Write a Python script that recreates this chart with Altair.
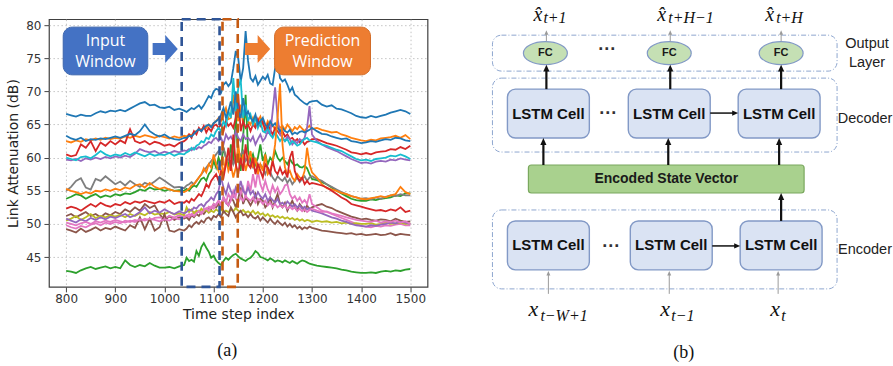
import math
import altair as alt
import pandas as pd

# ---------------------------------------------------------------------------
# (a) link attenuation traces
# time-step grid: every 10 steps before/after the event, every 5 through it
steps = list(range(800, 1041, 10)) + list(range(1045, 1301, 5)) + list(range(1310, 1501, 10))

link_00 = [66.6, 66.4, 66.2, 66.5, 66.3, 66.3, 66.7, 67.0, 66.8, 67.1,
           67.0, 67.2, 67.0, 67.4, 67.8, 68.2, 68.4, 67.9, 68.0, 67.6,
           67.5, 67.7, 67.2, 67.4, 67.1,
           66.9, 67.2, 67.5, 67.3, 67.6, 67.9, 67.4, 67.9, 68.6, 69.3, 69.0, 70.0, 70.4,
           70.2, 69.8, 71.0, 71.4, 70.8, 71.3, 73.5, 76.1, 75.0, 71.5, 73.5, 79.1, 74.6,
           72.0, 71.5, 72.3, 71.0, 71.6, 72.2, 71.8, 72.5, 71.2, 71.0, 73.5, 74.6, 72.0,
           71.5, 71.8, 71.0, 70.0, 70.6, 69.5, 69.2, 68.8, 68.5, 68.2, 68.0, 68.4, 68.5,
           68.6, 68.0, 67.7, 67.9, 67.4, 67.3, 67.0, 66.7, 66.3, 66.1,
           66.0, 66.3, 66.1, 66.3, 66.5, 66.8, 67.0, 67.2, 67.0, 66.6]
link_01 = [62.5, 62.3, 62.6, 62.4, 62.8, 62.6, 62.9, 62.7, 63.0, 62.8,
           63.0, 62.9, 63.2, 63.0, 63.3, 63.1, 63.4, 63.2, 63.0, 63.3,
           63.1, 62.9, 63.2, 63.0, 63.3,
           63.2, 63.5, 63.4, 63.8, 64.0, 64.3, 64.2, 64.6, 64.5, 65.0, 64.7, 65.2, 65.5,
           66.0, 65.5, 66.5, 67.5, 65.8, 66.0, 69.5, 66.5, 65.5, 68.0, 65.0, 66.5, 65.5,
           65.0, 66.0, 64.8, 65.5, 66.2, 65.0, 64.5, 65.5, 64.8, 65.0, 64.2, 65.0, 64.5,
           64.8, 64.2, 65.0, 64.5, 64.0, 64.6, 64.3, 64.8, 64.4, 64.0, 64.5, 64.8, 64.3,
           64.5, 64.2, 64.0, 63.8, 63.9, 63.5, 63.3, 63.0, 62.8, 62.6,
           62.5, 62.7, 62.6, 62.9, 63.0, 63.1, 63.3, 63.0, 63.4, 62.8]
link_02 = [53.8, 54.1, 54.5, 54.3, 53.8, 54.2, 54.5, 54.0, 54.3, 54.1,
           54.5, 54.3, 54.6, 54.5, 54.8, 55.2, 55.0, 55.5, 55.2, 55.3,
           55.0, 55.2, 55.0, 55.1, 55.0,
           55.3, 55.0, 55.5, 55.8, 55.6, 56.2, 56.8, 57.0, 56.5, 57.5, 58.0, 59.5, 58.5,
           60.0, 59.0, 61.5, 60.0, 58.5, 62.0, 59.0, 66.5, 60.0, 58.0, 63.0, 69.5, 61.0,
           59.5, 60.5, 59.0, 60.0, 62.0, 59.5, 60.5, 59.0, 60.0, 59.5, 61.0, 60.0, 59.5,
           60.0, 59.5, 59.0, 59.8, 59.2, 58.8, 59.0, 58.6, 58.5, 58.8, 58.4, 57.5, 56.8,
           56.6, 56.3, 56.0, 55.5, 55.0, 54.6, 54.2, 53.8, 53.6, 53.5,
           53.5, 53.7, 53.6, 53.8, 53.9, 54.0, 54.3, 54.2, 54.6, 54.6]
link_03 = [60.5, 60.2, 60.4, 62.0, 61.5, 62.5, 61.0, 62.3, 61.8, 62.5,
           62.0, 62.6, 62.2, 64.3, 62.5, 62.2, 62.5, 62.0, 62.4, 62.2,
           61.8, 62.0, 61.7, 62.2, 62.5,
           62.8, 63.5, 63.0, 64.0, 63.5, 64.5, 64.0, 64.8, 63.8, 64.5, 64.0, 64.8, 65.0,
           64.5, 65.0, 64.0, 65.5, 64.8, 65.2, 64.5, 66.0, 69.5, 64.0, 65.5, 64.5, 65.0,
           64.0, 65.0, 64.5, 65.8, 64.8, 65.5, 64.0, 65.0, 64.2, 63.5, 64.5, 64.0, 63.5,
           64.0, 63.2, 63.5, 62.8, 63.0, 62.5, 62.8, 62.3, 62.6, 62.0, 62.4, 62.5, 62.8,
           62.8, 62.5, 62.2, 62.0, 61.8, 61.5, 61.2, 60.8, 60.7, 60.5,
           60.7, 60.5, 60.8, 60.9, 61.0, 61.3, 61.2, 61.6, 61.3, 61.8]
link_04 = [59.7, 59.6, 59.8, 59.5, 59.9, 59.7, 60.0, 59.8, 60.1, 59.9,
           60.2, 60.0, 60.3, 60.1, 60.6, 61.3, 61.0, 60.8, 61.0, 60.6,
           60.9, 60.7, 61.0, 60.8, 61.1,
           61.0, 61.3, 61.1, 61.5, 61.3, 61.6, 61.4, 61.8, 62.0, 62.4, 62.2, 62.8, 63.0,
           62.5, 63.0, 62.0, 63.5, 62.8, 63.2, 62.5, 64.0, 63.0, 62.5, 63.5, 62.8, 63.0,
           62.5, 63.2, 62.0, 62.8, 63.5, 62.5, 63.0, 64.0, 63.5, 67.0, 70.6, 66.0, 63.5,
           63.0, 62.5, 63.2, 62.8, 62.0, 62.5, 62.2, 62.8, 62.5, 63.0, 64.5, 67.8, 63.5,
           62.5, 62.0, 61.6, 61.3, 61.0, 60.6, 60.2, 59.8, 59.5, 59.2,
           59.3, 59.1, 59.4, 59.5, 59.4, 59.7, 59.6, 59.9, 59.7, 59.6]
link_05 = [51.2, 51.5, 51.0, 51.4, 51.8, 51.2, 51.5, 51.0, 51.6, 51.3,
           51.8, 51.5, 52.2, 51.8, 52.5, 52.0, 53.0, 52.4, 52.8, 51.5,
           50.5, 51.2, 50.6, 51.0, 50.8,
           51.0, 50.6, 51.3, 51.0, 51.5, 51.2, 51.8, 51.5, 52.0, 52.5, 52.2, 53.0, 52.5,
           53.0, 52.5, 54.0, 53.2, 52.8, 54.0, 53.5, 52.5, 53.8, 55.5, 53.0, 54.0, 53.5,
           52.8, 53.5, 54.5, 53.0, 53.8, 53.5, 52.5, 53.0, 54.0, 52.5, 53.5, 54.5, 53.0,
           52.5, 53.2, 52.0, 52.8, 53.5, 52.5, 52.0, 53.0, 52.5, 52.0, 52.8, 52.2, 52.5,
           52.8, 53.0, 52.6, 52.4, 52.0, 51.7, 51.4, 51.1, 50.9, 50.7,
           50.8, 50.6, 50.5, 50.7, 50.6, 50.4, 50.8, 50.5, 50.3, 50.4]
link_06 = [49.8, 49.5, 49.3, 49.7, 49.5, 49.9, 50.1, 49.8, 50.2, 50.0,
           50.3, 50.1, 50.5, 50.3, 50.6, 50.4, 50.8, 50.5, 50.9, 51.0,
           50.8, 51.2, 51.0, 51.3, 51.0,
           51.2, 51.5, 51.3, 51.8, 51.6, 52.0, 51.8, 52.3, 52.1, 52.6, 52.4, 53.0, 52.8,
           53.5, 53.0, 54.0, 53.2, 54.5, 53.8, 55.0, 54.2, 56.0, 54.5, 55.5, 54.0, 56.5,
           55.0, 57.5, 55.5, 58.0, 56.0, 55.0, 56.5, 55.2, 54.5, 55.8, 54.8, 55.5, 54.5,
           55.0, 55.8, 56.0, 54.5, 53.8, 54.2, 53.5, 54.0, 53.2, 53.6, 53.0, 54.5, 53.0,
           52.5, 52.0, 51.8, 51.5, 51.2, 50.9, 50.6, 50.3, 50.0, 49.7,
           49.6, 49.5, 49.7, 49.6, 49.8, 49.7, 49.9, 50.0, 49.8, 49.8]
link_07 = [55.0, 55.6, 56.5, 56.9, 55.5, 55.2, 56.8, 56.5, 57.2, 56.6,
           56.0, 56.4, 55.8, 56.5, 56.0, 55.6, 56.2, 55.9, 56.4, 57.0,
           56.5, 56.0, 55.5, 55.6, 55.4,
           55.8, 56.0, 56.3, 56.0, 56.5, 57.0, 57.5, 58.0, 58.5, 59.0, 59.5, 60.0, 60.5,
           61.0, 60.5, 61.5, 60.0, 59.5, 60.5, 59.0, 60.0, 59.5, 60.5, 61.0, 59.5, 60.0,
           59.0, 58.5, 59.5, 58.8, 59.0, 58.5, 57.5, 58.5, 57.8, 57.0, 56.5, 57.2, 56.8,
           56.5, 57.0, 56.2, 56.8, 56.0, 56.5, 57.0, 56.3, 56.8, 57.2, 56.5, 57.0, 57.2,
           56.8, 56.5, 56.0, 55.6, 55.2, 54.8, 54.5, 54.2, 54.0, 53.8,
           53.9, 53.7, 54.0, 53.8, 54.1, 54.3, 54.2, 54.5, 54.3, 54.3]
link_08 = [50.5, 50.8, 51.2, 50.6, 51.0, 51.5, 50.9, 51.2, 51.0, 51.3,
           51.1, 51.4, 51.0, 51.5, 51.2, 51.6, 51.3, 51.8, 51.4, 51.6,
           51.5, 51.8, 51.4, 51.6, 51.3,
           52.5, 51.8, 52.2, 51.6, 52.0, 51.8, 52.3, 51.9, 52.1, 51.7, 52.0, 51.8, 52.2,
           51.9, 52.3, 51.7, 52.0, 51.8, 52.2, 51.9, 52.4, 52.0, 51.8, 52.1, 51.7, 51.9,
           51.6, 52.0, 51.5, 51.8, 51.4, 51.6, 51.2, 51.5, 51.1, 51.3, 51.0, 51.2, 50.9,
           51.1, 50.8, 51.0, 50.7, 50.9, 50.6, 50.8, 50.5, 50.7, 50.4, 50.6, 50.5, 50.3,
           50.5, 50.3, 50.4, 50.2, 50.3, 50.1, 50.2, 50.0, 50.1, 50.0,
           50.0, 50.1, 49.9, 50.0, 50.2, 50.0, 50.1, 50.2, 50.0, 50.1]
link_09 = [60.0, 59.8, 59.6, 60.1, 60.2, 59.9, 60.4, 61.0, 60.5, 60.2,
           60.5, 60.3, 60.7, 60.4, 60.8, 60.5, 60.2, 60.6, 60.3, 60.5,
           60.4, 60.7, 60.3, 60.6, 60.5,
           60.8, 61.0, 61.5, 61.2, 61.8, 62.0, 62.5, 62.3, 63.0, 62.8, 63.5, 63.2, 64.0,
           64.5, 64.0, 65.5, 64.8, 67.0, 66.0, 72.0, 67.0, 70.5, 71.8, 66.0, 68.0, 65.5,
           66.5, 65.0, 66.0, 64.5, 65.5, 64.0, 63.8, 64.5, 63.5, 63.0, 63.8, 63.2, 62.5,
           63.0, 62.5, 62.8, 62.0, 62.5, 62.2, 61.8, 62.0, 62.5, 62.8, 63.0, 62.6, 62.5,
           62.3, 62.0, 61.8, 61.5, 61.2, 61.0, 60.6, 60.2, 59.8, 59.6,
           59.7, 59.5, 59.8, 59.9, 60.0, 60.3, 60.2, 60.5, 60.2, 59.8]
link_10 = [63.3, 62.9, 62.7, 63.0, 62.5, 62.8, 62.7, 62.9, 62.8, 63.0,
           63.2, 63.0, 63.3, 63.6, 63.4, 64.0, 65.0, 64.0, 63.5, 63.2,
           63.5, 63.0, 62.8, 62.7, 63.0,
           63.0, 63.3, 63.2, 63.6, 64.0, 64.3, 64.0, 64.5, 64.8, 65.0, 64.6, 65.2, 65.5,
           65.8, 66.5, 67.5, 66.0, 67.0, 68.5, 66.5, 70.0, 67.0, 66.0, 69.0, 66.5, 67.0,
           66.0, 65.5, 66.5, 65.0, 65.5, 66.0, 65.0, 64.5, 65.5, 64.8, 65.2, 64.5, 64.0,
           64.5, 64.0, 63.8, 64.2, 63.5, 63.8, 63.6, 63.9, 64.0, 63.8, 64.0, 64.2, 64.5,
           64.0, 63.6, 63.5, 63.2, 63.0, 62.8, 62.9, 62.5, 62.4, 62.2,
           62.3, 62.5, 62.4, 62.6, 62.8, 62.7, 63.0, 62.9, 62.6, 62.5]
link_11 = [55.3, 55.0, 54.8, 54.5, 54.8, 54.6, 55.0, 54.9, 55.2, 55.0,
           55.3, 55.1, 55.5, 55.3, 55.8, 56.0, 55.5, 56.2, 55.6, 55.3,
           55.5, 55.2, 55.0, 54.9, 54.8,
           55.0, 55.3, 55.8, 56.0, 56.5, 57.0, 57.5, 58.4, 57.8, 59.0, 58.5, 60.5, 59.0,
           58.0, 59.5, 57.5, 60.0, 58.0, 59.0, 57.0, 58.5, 62.0, 59.0, 60.5, 58.0, 59.5,
           61.0, 58.5, 60.0, 57.5, 59.0, 58.0, 60.5, 57.5, 58.0, 59.5, 62.0, 66.0, 71.2,
           62.0, 58.5, 57.5, 58.0, 57.0, 56.5, 57.5, 57.0, 56.8, 58.0, 61.5, 59.0, 57.8,
           57.0, 56.0, 55.4, 55.2, 55.0, 54.7, 54.5, 54.2, 54.0, 53.8,
           53.7, 53.9, 54.0, 54.2, 54.0, 54.3, 54.5, 55.6, 54.8, 54.5]
link_12 = [42.9, 42.8, 42.6, 43.0, 43.3, 43.5, 43.2, 43.4, 43.6, 43.3,
           43.5, 43.3, 44.5, 43.8, 43.5, 43.8, 43.6, 44.1, 43.7, 43.4,
           43.4, 43.5, 43.3, 43.6, 43.8,
           44.9, 44.4, 44.6, 44.3, 45.9, 45.2, 46.5, 47.1, 46.4, 45.8, 44.9, 45.2, 44.5,
           44.1, 43.8, 44.4, 44.9, 44.6, 45.0, 45.3, 45.5, 45.1, 44.8, 44.6, 44.4, 44.7,
           44.9, 45.3, 45.9, 45.6, 45.0, 44.9, 44.7, 44.5, 44.8, 44.6, 44.3, 44.5, 44.4,
           44.2, 44.5, 44.3, 44.1, 44.4, 44.2, 44.0, 44.3, 44.5, 44.4, 44.2, 44.0, 43.9,
           43.7, 43.6, 43.5, 43.4, 43.3, 43.1, 43.0, 42.8, 42.7, 42.6,
           42.6, 42.7, 42.6, 42.8, 42.9, 42.8, 43.0, 42.9, 43.1, 43.2]
link_13 = [52.3, 52.6, 52.4, 52.0, 52.5, 53.0, 52.6, 53.2, 52.8, 52.6,
           53.0, 52.8, 53.3, 53.0, 53.4, 53.2, 53.5, 53.3, 53.1, 53.4,
           53.2, 53.6, 53.0, 53.3, 53.2,
           53.5, 53.2, 53.8, 53.5, 54.0, 54.5, 54.2, 55.0, 56.0, 55.5, 56.5, 57.0, 57.5,
           56.5, 58.0, 57.0, 59.0, 61.5, 58.0, 63.5, 59.0, 57.5, 60.0, 58.0, 62.0, 59.0,
           58.5, 60.0, 57.5, 59.0, 58.0, 57.0, 59.0, 58.5, 57.5, 59.5, 58.0, 57.5, 58.5,
           57.5, 58.0, 57.0, 60.0, 61.0, 58.0, 57.0, 56.5, 57.0, 56.0, 56.5, 56.0, 56.2,
           56.0, 55.8, 55.5, 55.0, 54.5, 54.0, 53.6, 53.0, 52.8, 52.6,
           52.4, 52.2, 52.0, 52.1, 51.9, 52.2, 52.0, 52.5, 51.8, 52.0]
link_14 = [50.8, 50.5, 50.2, 50.7, 50.4, 50.9, 50.6, 51.0, 50.7, 51.1,
           50.9, 51.2, 51.5, 51.0, 51.3, 51.8, 52.5, 51.6, 52.0, 51.7,
           52.2, 51.8, 51.5, 51.9, 51.6,
           51.8, 52.2, 52.0, 52.5, 52.3, 52.8, 53.0, 52.6, 53.2, 53.5, 54.0, 53.6, 54.5,
           55.0, 57.0, 55.5, 54.5, 56.0, 55.0, 54.2, 55.5, 54.8, 56.5, 55.0, 54.5, 55.5,
           54.5, 55.0, 54.0, 54.8, 54.2, 53.8, 54.5, 53.5, 54.0, 53.6, 53.2, 53.8, 53.0,
           53.2, 52.8, 53.4, 53.0, 52.6, 53.0, 52.5, 52.8, 52.3, 52.6, 52.2, 52.4, 52.0,
           51.8, 51.6, 51.3, 51.0, 50.8, 50.5, 50.3, 50.0, 49.8, 49.7,
           49.6, 49.8, 49.7, 49.9, 50.0, 50.2, 50.1, 50.3, 50.2, 50.0]
link_15 = [49.2, 49.0, 48.7, 49.3, 48.8, 49.1, 49.5, 49.0, 49.4, 49.2,
           49.6, 49.3, 49.0, 49.8, 49.4, 51.0, 49.2, 50.8, 49.0, 49.5,
           51.5, 49.0, 48.8, 49.2, 49.0,
           49.3, 49.8, 49.5, 50.0, 50.3, 50.0, 50.5, 50.2, 50.8, 51.0, 50.6, 51.2, 51.0,
           51.5, 51.0, 52.0, 51.5, 51.2, 52.5, 51.8, 51.0, 51.6, 52.0, 51.3, 51.5, 51.0,
           51.5, 51.0, 50.8, 51.2, 50.5, 51.0, 50.6, 50.2, 50.8, 50.3, 50.0, 50.5, 50.1,
           49.8, 50.2, 49.6, 50.0, 49.5, 49.8, 49.3, 49.6, 49.2, 49.5, 49.3, 49.6, 49.4,
           49.2, 49.0, 48.9, 48.8, 48.7, 48.6, 48.5, 48.6, 48.4, 48.5,
           48.3, 48.4, 48.5, 48.3, 48.4, 48.6, 48.3, 48.5, 48.4, 48.3]
link_16 = [50.2, 50.0, 49.8, 50.1, 50.3, 50.0, 50.4, 50.2, 50.5, 50.3,
           50.6, 50.4, 50.2, 50.5, 50.3, 50.7, 50.5, 50.8, 50.6, 50.4,
           50.7, 50.5, 50.9, 50.7, 51.0,
           51.3, 51.0, 51.5, 51.2, 51.6, 51.9, 51.5, 52.0, 52.4, 52.0, 52.6, 52.3, 53.0,
           53.5, 52.8, 54.0, 53.5, 52.8, 53.5, 54.5, 53.8, 53.2, 54.0, 53.5, 54.2, 53.8,
           53.5, 54.0, 53.2, 53.8, 53.5, 53.0, 53.5, 52.8, 53.2, 52.6, 53.0, 52.5, 52.8,
           52.5, 52.8, 52.3, 52.6, 52.2, 52.5, 52.0, 52.3, 51.9, 52.2, 51.8, 52.1, 52.3,
           52.0, 51.8, 51.9, 51.6, 51.4, 51.2, 51.0, 50.8, 50.6, 50.5,
           50.4, 50.3, 50.5, 50.2, 50.4, 50.3, 50.5, 50.2, 50.4, 50.0]

links = [link_00, link_01, link_02, link_03, link_04, link_05, link_06, link_07, link_08,
         link_09, link_10, link_11, link_12, link_13, link_14, link_15, link_16]
link_ids = [f"link {i:02d}" for i in range(len(links))]
link_colors = ["#1f77b4", "#ff7f0e", "#2ca02c", "#d62728", "#9467bd", "#8c564b",
               "#e377c2", "#7f7f7f", "#bcbd22", "#17becf", "#1f77b4", "#ff7f0e",
               "#2ca02c", "#d62728", "#9467bd", "#8c564b", "#e377c2"]

x_ticks = [800, 900, 1000, 1100, 1200, 1300, 1400, 1500]
y_ticks = [45, 50, 55, 60, 65, 70, 75, 80]
X_DOMAIN = [765, 1535]
Y_DOMAIN = [40.5, 80.9]

# input / prediction windows
window_names = ["Input", "Prediction"]
window_start = [1035, 1118]
window_end = [1112, 1149]
window_colors = ["#2f5597", "#c55a11"]

# call-out boxes with their block arrows
callout_names = ["Input", "Prediction"]
callout_start = [794, 1224]
callout_end = [966, 1419]
callout_low, callout_high = 72.5, 79.7
callout_fill = ["#4472c4", "#ed7d31"]
callout_edge = ["#3a64ad", "#d26a24"]
callout_words = ["Input", "Window", "Prediction", "Window"]
callout_word_box = [0, 0, 1, 1]
callout_word_level = [77.6, 74.4, 77.6, 74.4]
pointer_at = [1001.5, 1189.5]
pointer_level = 76.4

rows = []
for lid, vals in zip(link_ids, links):
    for s, v in zip(steps, vals):
        rows.append({"step": s, "attenuation": v, "link": lid})
lines_df = pd.DataFrame(rows)

windows_df = pd.DataFrame({
    "name": window_names, "step": window_start, "step_end": window_end,
    "attenuation": [Y_DOMAIN[0]] * 2, "attenuation_top": [Y_DOMAIN[1]] * 2,
    "color": window_colors,
})
callout_df = pd.DataFrame({
    "name": callout_names, "step": callout_start, "step_end": callout_end,
    "attenuation": [callout_low] * 2, "attenuation_top": [callout_high] * 2,
    "fill": callout_fill, "edge": callout_edge,
})
callout_words_df = pd.DataFrame({
    "word": callout_words,
    "mid": [(callout_start[b] + callout_end[b]) / 2 for b in callout_word_box],
    "level": callout_word_level,
})
pointer_df = pd.DataFrame({"step": pointer_at, "attenuation": [pointer_level] * 2,
                           "fill": callout_fill})

AX_FONT = "DejaVu Sans"
axis_common = dict(
    labelFont=AX_FONT, labelFontSize=12, labelColor="#333333",
    titleFont=AX_FONT, titleFontSize=14, titleFontWeight="normal", titleColor="#222222",
    tickColor="#444444", tickSize=5, tickWidth=1, domain=False,
    grid=True, gridColor="#bdbdbd", gridDash=[1.5, 2.5], gridWidth=0.9,
)
x_scale = alt.Scale(domain=X_DOMAIN, nice=False, zero=False)
y_scale = alt.Scale(domain=Y_DOMAIN, nice=False, zero=False)
x_axis = alt.Axis(values=x_ticks, format="d", title="Time step index",
                  labelPadding=2, titlePadding=3, **axis_common)
y_axis = alt.Axis(values=y_ticks, format="d", title="Link Attenuation (dB)",
                  labelPadding=3, titlePadding=5, **axis_common)


def xq(field="step"):
    return alt.X(f"{field}:Q", scale=x_scale, axis=x_axis)


def yq(field="attenuation"):
    return alt.Y(f"{field}:Q", scale=y_scale, axis=y_axis)


traces = alt.Chart(lines_df).mark_line(strokeWidth=1.8).encode(
    x=xq(), y=yq(),
    color=alt.Color("link:N", scale=alt.Scale(domain=link_ids, range=link_colors), legend=None),
)
window_rects = alt.Chart(windows_df).mark_rect(
    fillOpacity=0, strokeWidth=2.6, strokeDash=[9, 6]
).encode(
    x=xq(), x2="step_end:Q", y=yq(), y2="attenuation_top:Q",
    stroke=alt.Stroke("color:N", scale=None),
)
callout_boxes = alt.Chart(callout_df).mark_rect(cornerRadius=9, strokeWidth=1).encode(
    x=xq(), x2="step_end:Q", y=yq(), y2="attenuation_top:Q",
    fill=alt.Fill("fill:N", scale=None), stroke=alt.Stroke("edge:N", scale=None),
)
callout_labels = alt.Chart(callout_words_df).mark_text(
    font="Open Sans", fontSize=16, color="white", align="center", baseline="middle",
).encode(x=xq("mid"), y=yq("level"), text="word:N")
BLOCK_ARROW = "M-0.9,-0.43L0,-0.43L0,-1L0.9,0L0,1L0,0.43L-0.9,0.43Z"
pointers = alt.Chart(pointer_df).mark_point(
    shape=BLOCK_ARROW, size=784, filled=True, opacity=1, strokeWidth=0
).encode(x=xq(), y=yq(), color=alt.Color("fill:N", scale=None))

panel_a = alt.layer(traces, window_rects, callout_boxes, pointers, callout_labels).properties(
    width=379, height=268,
    view=alt.ViewBackground(stroke="#404040", strokeWidth=1.2),
    title=alt.TitleParams("(a)", orient="bottom", anchor="middle", font="Liberation Serif",
                          fontSize=18, fontWeight="normal", color="#111111", offset=20, dx=-11),
)

# ---------------------------------------------------------------------------
# (b) encoder-decoder LSTM diagram, laid out in diagram units
stage_names = ["Output Layer", "Decoder", "Encoder"]
stage_left, stage_right = 492, 837
stage_top = [34, 77, 209]
stage_bottom = [70, 151, 288]

decoder_x = [548, 669, 779]
encoder_x = [548, 671, 781]
decoder_y, encoder_y = 112.5, 244.5
cell_w, cell_h = 82, 49

fc_x = [545, 669, 781]
fc_y = 52
state_box = (528, 804, 164, 192)

side_labels = ["Output", "Layer", "Decoder", "Encoder"]
side_x = [867, 867, 865, 865]
side_y = [43, 62, 118, 249]

ellipsis_x = [607, 608, 611]
ellipsis_y = [49, 113, 246]

out_sub = ["t+1", "t+H\u22121", "t+H"]
out_x = [533, 657, 765]
out_sub_x = [543, 668, 776]
out_base, out_sub_base = 20, 22
in_sub = ["t\u2212W+1", "t\u22121", "t"]
in_x = [528, 660, 770]
in_sub_x = [540, 671, 781]
in_base, in_sub_base = 315, 320

# (x1, y1, x2, y2, kind)
links_b = (
    [(x, 88, x, 63.5, "bold") for x in [546, 670, 781]]
    + [(x, 164, x, 137, "bold") for x in [543, 668, 779]]
    + [(781, 220, 781, 192, "bold")]
    + [(710, 112, 738, 112, "step"), (712, 245, 740, 245, "step")]
    + [(x, 40, x, 29, "faint") for x in [546, 670, 781]]
    + [(x, 293, x, 270, "faint") for x in [548, 669, 778]]
)
arrow_style = {"bold": (2.2, "#111111", 7.0), "step": (1.5, "#111111", 6.0),
               "faint": (1.0, "#9a9a9a", 4.5)}

shaft_rows, head_rows = [], []
for x1, y1, x2, y2, kind in links_b:
    w, c, hl = arrow_style[kind]
    dx, dy = x2 - x1, y2 - y1
    n = math.hypot(dx, dy)
    ux, uy = dx / n, dy / n
    shaft_rows.append({"x": x1, "y": y1, "x2": x2 - ux * hl * 0.8, "y2": y2 - uy * hl * 0.8,
                       "w": w, "c": c})
    k = hl / 1.7
    head_rows.append({"x": x2, "y": y2, "c": c, "size": (2 * k) ** 2,
                      "angle": math.degrees(math.atan2(dx, -dy)) % 360})

SX = alt.Scale(domain=[440, 893], nice=False, zero=False)
SY = alt.Scale(domain=[18, 286], reverse=True, nice=False, zero=False)


def bx(f):
    return alt.X(f"{f}:Q", scale=SX, axis=None)


def by(f):
    return alt.Y(f"{f}:Q", scale=SY, axis=None)


SANS = "Liberation Sans"
SERIF = "Liberation Serif"

stages_df = pd.DataFrame({"stage": stage_names, "x": [stage_left] * 3, "x2": [stage_right] * 3,
                          "y": stage_top, "y2": stage_bottom})
cells_df = pd.DataFrame({
    "x": [c - cell_w / 2 for c in decoder_x + encoder_x],
    "x2": [c + cell_w / 2 for c in decoder_x + encoder_x],
    "y": [decoder_y - cell_h / 2] * 3 + [encoder_y - cell_h / 2] * 3,
    "y2": [decoder_y + cell_h / 2] * 3 + [encoder_y + cell_h / 2] * 3,
    "cx": decoder_x + encoder_x,
    "cy": [decoder_y] * 3 + [encoder_y] * 3,
    "label": ["LSTM Cell"] * 6,
})
fc_df = pd.DataFrame({"x": fc_x, "y": [fc_y] * 3, "label": ["FC"] * 3})
state_df = pd.DataFrame({"x": [state_box[0]], "x2": [state_box[1]], "y": [state_box[2]],
                         "y2": [state_box[3]], "cx": [(state_box[0] + state_box[1]) / 2],
                         "cy": [(state_box[2] + state_box[3]) / 2],
                         "label": ["Encoded State Vector"]})
side_df = pd.DataFrame({"x": side_x, "y": side_y, "label": side_labels})
dots_df = pd.DataFrame({"x": ellipsis_x, "y": ellipsis_y, "label": ["\u00b7\u00b7\u00b7"] * 3})
out_main_df = pd.DataFrame({"x": out_x, "y": [out_base] * 3, "label": ["x\u0302"] * 3})
out_sub_df = pd.DataFrame({"x": out_sub_x, "y": [out_sub_base] * 3, "label": out_sub})
in_main_df = pd.DataFrame({"x": in_x, "y": [in_base] * 3, "label": ["x"] * 3})
in_sub_df = pd.DataFrame({"x": in_sub_x, "y": [in_sub_base] * 3, "label": in_sub})

stages = alt.Chart(stages_df).mark_rect(
    fillOpacity=0, stroke="#8ea6cf", strokeWidth=1, strokeDash=[5, 2, 1, 2], cornerRadius=9
).encode(x=bx("x"), x2="x2:Q", y=by("y"), y2="y2:Q")
state = alt.Chart(state_df).mark_rect(
    fill="#a9d18e", stroke="#7aa85e", strokeWidth=1.2, cornerRadius=3
).encode(x=bx("x"), x2="x2:Q", y=by("y"), y2="y2:Q")
state_text = alt.Chart(state_df).mark_text(
    font=SANS, fontWeight="bold", fontSize=14, color="#1a1a1a"
).encode(x=bx("cx"), y=by("cy"), text="label:N")
cells = alt.Chart(cells_df).mark_rect(
    fill="#dae3f3", stroke="#8299c6", strokeWidth=1.4, cornerRadius=8
).encode(x=bx("x"), x2="x2:Q", y=by("y"), y2="y2:Q")
cell_text = alt.Chart(cells_df).mark_text(
    font=SANS, fontWeight="bold", fontSize=15, color="#111111"
).encode(x=bx("cx"), y=by("cy"), text="label:N")
ELLIPSE = "M-1,0A1,0.52 0 1,1 1,0A1,0.52 0 1,1 -1,0Z"
fc_nodes = alt.Chart(fc_df).mark_point(
    shape=ELLIPSE, size=44 ** 2, filled=True, fill="#c5e0b4", stroke="#8299c6",
    strokeWidth=1.2, opacity=1, fillOpacity=1, strokeOpacity=1
).encode(x=bx("x"), y=by("y"))
fc_text = alt.Chart(fc_df).mark_text(
    font=SANS, fontWeight="bold", fontSize=11, color="#1a1a1a"
).encode(x=bx("x"), y=by("y"), text="label:N")
shafts = alt.Chart(pd.DataFrame(shaft_rows)).mark_rule().encode(
    x=bx("x"), y=by("y"), x2="x2:Q", y2="y2:Q",
    strokeWidth=alt.StrokeWidth("w:Q", scale=None), color=alt.Color("c:N", scale=None),
)
HEAD = "M0,0L-0.75,1.7L0.75,1.7Z"
heads = alt.Chart(pd.DataFrame(head_rows)).mark_point(
    shape=HEAD, filled=True, opacity=1, strokeWidth=0
).encode(
    x=bx("x"), y=by("y"), color=alt.Color("c:N", scale=None),
    size=alt.Size("size:Q", scale=None), angle=alt.Angle("angle:Q", scale=None),
)
side_text = alt.Chart(side_df).mark_text(
    font=SANS, fontSize=14.5, color="#222222"
).encode(x=bx("x"), y=by("y"), text="label:N")
dots = alt.Chart(dots_df).mark_text(
    font=SANS, fontSize=18, fontWeight="bold", color="#333333"
).encode(x=bx("x"), y=by("y"), text="label:N")


def math_text(df, size):
    return alt.Chart(df).mark_text(
        font=SERIF, fontStyle="italic", fontSize=size, color="#111111",
        align="left", baseline="alphabetic"
    ).encode(x=bx("x"), y=by("y"), text="label:N")


panel_b = alt.layer(
    stages, state, cells, fc_nodes, shafts, heads, state_text, cell_text, fc_text,
    side_text, dots,
    math_text(out_main_df, 20), math_text(out_sub_df, 16),
    math_text(in_main_df, 22), math_text(in_sub_df, 16),
).properties(
    width=453, height=268,
    title=alt.TitleParams("(b)", orient="bottom", anchor="middle", font="Liberation Serif",
                          fontSize=18, fontWeight="normal", color="#111111", offset=20, dx=17),
)

chart = alt.hconcat(panel_a, panel_b, spacing=13, bounds="flush").properties(
    padding={"left": 6, "top": 5, "right": 0, "bottom": 0}
).configure_view(stroke=None)

chart.save("out.html", embed_options={"renderer": "svg", "actions": False})
